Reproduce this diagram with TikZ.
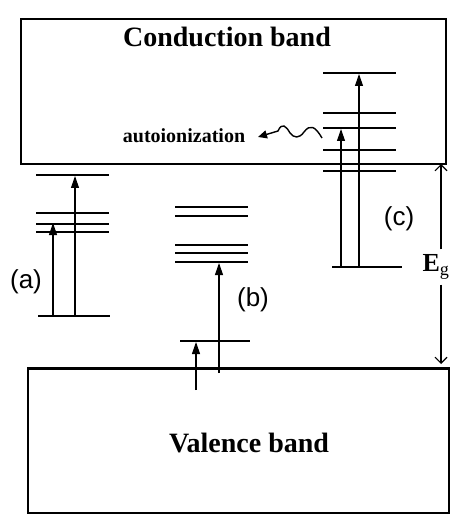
\documentclass[tikz,border=0pt]{standalone}
\usepackage{fontspec}
\setmainfont{Liberation Serif}
\newfontfamily\labelsans{Liberation Sans}
\usetikzlibrary{arrows.meta,calc}
\tikzset{
  bandbox/.style ={draw, line width=1.6pt, inner sep=0pt, anchor=north west},
  bandname/.style={font=\fontsize{28}{30}\selectfont\bfseries},
  level/.style   ={line width=1.8pt},
  trans/.style   ={-{Triangle[length=12pt,width=8pt]}, line width=1.1pt},
  egarrow/.style ={-{Straight Barb[length=6pt,width=12pt]}, line width=1.1pt},
  caselbl/.style ={font=\fontsize{26}{28}\selectfont\labelsans},
  wavy/.style    ={-{Triangle[length=9pt,width=8pt]}, line width=1.4pt}
}
\begin{document}
\begin{tikzpicture}[x=1pt,y=-1pt]
\useasboundingbox (0,0) rectangle (451,518);
% bands
\node[bandbox, minimum width=425pt, minimum height=145pt] (cb) at (20,18) {};
\node[bandbox, minimum width=421pt, minimum height=144pt] (vb) at (27,368) {};
\draw[line width=3pt] (vb.north west) -- (vb.north east);
\node[bandname] (cbname) at (227,37) {Conduction band};
\node[bandname] (vbname) at (249,443) {Valence band};

% (a) levels and transitions
\foreach \y in {175,213,224,232} \draw[level] (36,\y) -- (109,\y);
\draw[level] (38,316) -- (110,316);
\coordinate (a0) at (53,316);  \coordinate (a1) at (53,223);
\coordinate (a2) at (75,316);  \coordinate (a3) at (75,176);
\draw[trans] (a0) -- (a1);
\draw[trans] (a2) -- (a3);
\node[caselbl] (la) at (26,282) {(a)};

% (b) levels and transitions
\foreach \y in {207,216,245,253,262} \draw[level] (175,\y) -- (248,\y);
\draw[level] (180,341) -- (250,341);
\coordinate (b0) at (219,373); \coordinate (b1) at (219,263);
\coordinate (b2) at (196,390); \coordinate (b3) at (196,342);
\draw[trans] (b0) -- (b1);
\draw[trans] (b2) -- (b3);
\node[caselbl] (lb) at (253,300) {(b)};

% (c) levels and transitions
\foreach \y in {73,113,128,150,171} \draw[level] (323,\y) -- (396,\y);
\draw[level] (332,267) -- (402,267);
\coordinate (c0) at (341,267); \coordinate (c1) at (341,129);
\coordinate (c2) at (359,267); \coordinate (c3) at (359,74);
\draw[trans] (c0) -- (c1);
\draw[trans] (c2) -- (c3);
\node[caselbl] (lc) at (399,219) {(c)};

% autoionization
\node[font=\fontsize{20}{22}\selectfont\bfseries] (auto) at (184,136) {autoionization};
\coordinate (w0) at (322,138);
\coordinate (wtip) at (258,137);
\draw[wavy] (w0) .. controls (315,126) and (310,124) .. (304,132)
  .. controls (299,139) and (294,138) .. (290,133)
  .. controls (286,126) and (282,122) .. (278,131)
  -- (wtip);

% gap energy
\node[font=\fontsize{26}{28}\selectfont\bfseries, inner sep=5pt] (eg) at (436,267) {E$_{\mathrm{g}}$};
\coordinate (egtop) at (441,164);
\coordinate (egbot) at (441,364);
\draw[egarrow] (eg.north -| egtop) -- (egtop);
\draw[egarrow] (eg.south -| egbot) -- (egbot);
\end{tikzpicture}
\end{document}
